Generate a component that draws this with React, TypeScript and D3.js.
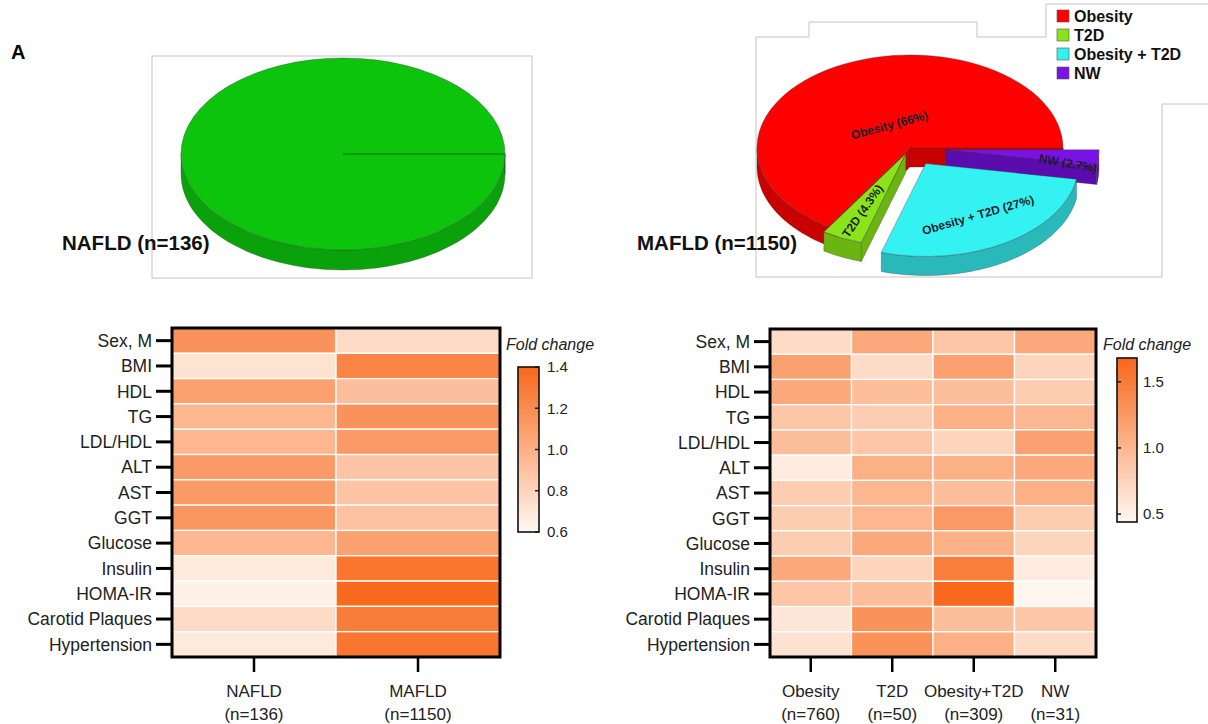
import React, { useEffect, useRef } from "react";
import * as d3 from "d3";

// ---------- DATA ----------
const rowLabels = [
  "Sex, M", "BMI", "HDL", "TG", "LDL/HDL", "ALT", "AST", "GGT",
  "Glucose", "Insulin", "HOMA-IR", "Carotid Plaques", "Hypertension",
];

const leftGroups = ["NAFLD", "MAFLD"];
const leftGroupN = ["(n=136)", "(n=1150)"];
const nafldFC = [1.16, 0.72, 1.08, 0.96, 0.96, 1.12, 1.12, 1.14, 0.96, 0.68, 0.64, 0.76, 0.68];
const mafldFC = [0.76, 1.24, 0.92, 1.16, 1.12, 0.88, 0.88, 0.9, 1.08, 1.32, 1.38, 1.28, 1.32];

const rightGroups = ["Obesity", "T2D", "Obesity+T2D", "NW"];
const rightGroupN = ["(n=760)", "(n=50)", "(n=309)", "(n=31)"];
const obesityFC = [0.69, 1.18, 1.12, 0.87, 0.94, 0.54, 0.81, 0.81, 0.81, 1.12, 0.87, 0.59, 0.63];
const t2dFC = [1.12, 0.69, 0.94, 0.81, 0.87, 1.06, 1.0, 1.0, 1.12, 0.75, 0.94, 1.31, 1.31];
const obesityT2dFC = [0.87, 1.18, 0.94, 1.06, 0.75, 1.06, 0.94, 1.25, 1.06, 1.49, 1.66, 0.94, 1.06];
const nwFC = [1.12, 0.75, 0.81, 1.0, 1.18, 1.12, 1.06, 0.81, 0.75, 0.54, 0.46, 0.87, 0.69];

const leftLegendDomain = [0.6, 1.4];
const leftLegendTicks = [0.6, 0.8, 1.0, 1.2, 1.4];
const rightLegendDomain = [0.44, 1.68];
const rightLegendTicks = [0.5, 1.0, 1.5];

// pie slices in clockwise order starting at 3 o'clock
const mafldSubtypes = ["NW", "Obesity + T2D", "T2D", "Obesity"];
const mafldShares = [2.7, 27, 4.3, 66];
const mafldLabels = ["NW (2.7%)", "Obesity + T2D (27%)", "T2D (4.3%)", "Obesity (66%)"];
const legendOrder = ["Obesity", "T2D", "Obesity + T2D", "NW"];
const nafldShares = [100];

// ---------- STYLE ----------
const FONT = "Arial, 'Liberation Sans', Helvetica, sans-serif";
const sliceStyle: Record<string, { top: string; side: string; explode: number; lf: number; rot: number }> = {
  NW: { top: "#7a12e6", side: "#5a0cae", explode: 36, lf: 0.8, rot: 10 },
  "Obesity + T2D": { top: "#35f2f2", side: "#29b9ba", explode: 30, lf: 0.65, rot: -16 },
  T2D: { top: "#8ae41a", side: "#6bb512", explode: 10, lf: 0.68, rot: -55 },
  Obesity: { top: "#ff0000", side: "#c80000", explode: 0, lf: 0.28, rot: -15 },
};

function draw3DPie(
  g: d3.Selection<SVGGElement, unknown, null, undefined>,
  names: string[],
  values: number[],
  cx: number, cy: number, rx: number, ry: number, h: number,
  styleOf: (n: string) => { top: string; side: string; explode: number },
  drawOrder: string[],
) {
  const pie = d3.pie<number>().sort(null).startAngle(Math.PI / 2).endAngle(Math.PI / 2 + 2 * Math.PI);
  const arcs = pie(values);
  const k = ry / rx;
  const arcGen = d3.arc<any>().innerRadius(0).outerRadius(rx);
  const info: any[] = [];
  arcs.forEach((a, i) => {
    const st = styleOf(names[i]);
    const mid = (a.startAngle + a.endAngle) / 2;
    const isFull = a.endAngle - a.startAngle >= 2 * Math.PI - 1e-6;
    const ox = isFull ? 0 : st.explode * Math.sin(mid);
    const oy = isFull ? 0 : -st.explode * Math.cos(mid) * k;
    info.push({ a, st, mid, tx: cx + ox, ty: cy + oy, name: names[i], isFull });
  });
  const line = d3.line();
  const order = drawOrder.map((n) => info.find((d) => d.name === n)).filter(Boolean);
  order.forEach((d) => {
    const { a, st, tx, ty, isFull } = d;
    const pt = (ang: number, dy = 0): [number, number] => [tx + rx * Math.sin(ang), ty - ry * Math.cos(ang) + dy];
    const sg = g.append("g");
    if (!isFull) {
      const face = (ang: number) => {
        const [px, py] = pt(ang);
        return line([[tx, ty], [px, py], [px, py + h], [tx, ty + h]]) + "Z";
      };
      if (Math.sin(a.startAngle) < 0)
        sg.append("path").attr("d", face(a.startAngle)).attr("fill", st.side).attr("stroke", "#333").attr("stroke-width", 0.5).attr("stroke-opacity", 0.6);
      if (Math.sin(a.endAngle) > 0)
        sg.append("path").attr("d", face(a.endAngle)).attr("fill", st.side).attr("stroke", "#333").attr("stroke-width", 0.5).attr("stroke-opacity", 0.6);
    }
    const fronts = [[Math.PI / 2, (3 * Math.PI) / 2], [(5 * Math.PI) / 2, (7 * Math.PI) / 2]];
    fronts.forEach(([f0, f1]) => {
      const a0 = Math.max(a.startAngle, f0);
      const a1 = Math.min(a.endAngle, f1);
      if (a1 > a0) {
        const n = 60;
        const top = d3.range(n + 1).map((i) => pt(a0 + ((a1 - a0) * i) / n));
        const bot = top.slice().reverse().map(([x, y]) => [x, y + h] as [number, number]);
        sg.append("path").attr("d", line([...top, ...bot]) + "Z").attr("fill", st.side)
          .attr("stroke", "#333").attr("stroke-width", 0.5).attr("stroke-opacity", 0.6);
      }
    });
    sg.append("path")
      .attr("d", arcGen({ startAngle: a.startAngle, endAngle: a.endAngle }) as string)
      .attr("transform", `translate(${tx},${ty}) scale(1,${k})`)
      .attr("fill", st.top)
      .attr("stroke", "#333")
      .attr("stroke-opacity", 0.6)
      .attr("stroke-width", 0.6)
      .attr("vector-effect", "non-scaling-stroke");
    if (isFull) {
      const [px, py] = pt(a.startAngle);
      sg.append("line").attr("x1", tx).attr("y1", ty).attr("x2", px).attr("y2", py)
        .attr("stroke", "#116611").attr("stroke-width", 1);
    }
  });
  return info;
}

function drawHeatmap(
  svg: d3.Selection<SVGSVGElement, unknown, null, undefined>,
  x0: number, x1: number, y0: number, y1: number,
  groups: string[], ns: string[], columns: number[][],
  color: (v: number) => string,
) {
  const g = svg.append("g");
  const xs = d3.scaleBand<string>().domain(groups).range([x0, x1]);
  const ys = d3.scaleBand<string>().domain(rowLabels).range([y0, y1]);
  groups.forEach((grp, i) => {
    rowLabels.forEach((r, j) => {
      g.append("rect")
        .attr("x", xs(grp)!).attr("y", ys(r)!)
        .attr("width", xs.bandwidth()).attr("height", ys.bandwidth())
        .attr("fill", color(columns[i][j]))
        .attr("stroke", "#ffffff").attr("stroke-width", 1.3);
    });
  });
  g.append("rect").attr("x", x0).attr("y", y0).attr("width", x1 - x0).attr("height", y1 - y0)
    .attr("fill", "none").attr("stroke", "#000").attr("stroke-width", 3);
  rowLabels.forEach((r) => {
    const yc = ys(r)! + ys.bandwidth() / 2;
    g.append("line").attr("x1", x0 - 16).attr("x2", x0).attr("y1", yc).attr("y2", yc)
      .attr("stroke", "#000").attr("stroke-width", 3);
    g.append("text").attr("x", x0 - 20).attr("y", yc).attr("dy", "0.36em")
      .attr("text-anchor", "end").attr("font-size", 17.5).attr("fill", "#222").text(r);
  });
  groups.forEach((grp, i) => {
    const xc = xs(grp)! + xs.bandwidth() / 2;
    g.append("line").attr("x1", xc).attr("x2", xc).attr("y1", y1).attr("y2", y1 + 15)
      .attr("stroke", "#000").attr("stroke-width", 2.5);
    g.append("text").attr("x", xc).attr("y", y1 + 40).attr("text-anchor", "middle")
      .attr("font-size", 17).attr("fill", "#222").text(grp);
    g.append("text").attr("x", xc).attr("y", y1 + 63).attr("text-anchor", "middle")
      .attr("font-size", 17).attr("fill", "#222").text(ns[i]);
  });
}

function drawLegend(
  svg: d3.Selection<SVGSVGElement, unknown, null, undefined>,
  id: string, titleX: number, bx: number, bw: number, by0: number, by1: number,
  domain: number[], ticks: number[], color: (v: number) => string, tickSide: "left" | "right", labelGap: number,
) {
  const g = svg.append("g");
  const ys = d3.scaleLinear().domain(domain).range([by1, by0]);
  const grad = svg.append("defs").append("linearGradient").attr("id", id)
    .attr("x1", 0).attr("x2", 0).attr("y1", 1).attr("y2", 0);
  d3.range(11).forEach((i) => {
    const v = domain[0] + ((domain[1] - domain[0]) * i) / 10;
    grad.append("stop").attr("offset", `${i * 10}%`).attr("stop-color", color(v));
  });
  g.append("text").attr("x", titleX).attr("y", 350).attr("font-size", 16).attr("font-style", "italic")
    .attr("fill", "#222").text("Fold change");
  g.append("rect").attr("x", bx).attr("y", by0).attr("width", bw).attr("height", by1 - by0)
    .attr("fill", `url(#${id})`).attr("stroke", "#111").attr("stroke-width", 1.6);
  ticks.forEach((t) => {
    const y = ys(t);
    const tx0 = tickSide === "right" ? bx + bw - 4 : bx;
    g.append("line").attr("x1", tx0).attr("x2", tx0 + 4).attr("y1", y).attr("y2", y)
      .attr("stroke", "#111").attr("stroke-width", 1.4);
    g.append("text").attr("x", bx + bw + labelGap).attr("y", y).attr("dy", "0.36em")
      .attr("font-size", 15).attr("fill", "#222").text(d3.format(".1f")(t));
  });
}

export default function App() {
  const ref = useRef<SVGSVGElement>(null);
  useEffect(() => {
    const svg = d3.select(ref.current!);
    svg.selectAll("*").remove();

    svg.append("text").attr("x", 11).attr("y", 59).attr("font-size", 20).attr("font-weight", "bold").text("A");

    // ---- left pie ----
    svg.append("rect").attr("x", 152).attr("y", 56).attr("width", 380).attr("height", 222)
      .attr("fill", "#fff").attr("stroke", "#c4c4c4").attr("stroke-width", 1);
    const gl = svg.append("g");
    draw3DPie(gl, ["NAFLD"], nafldShares, 343, 154, 162, 96, 20,
      () => ({ top: "#0cc40c", side: "#0aa20a", explode: 0 }), ["NAFLD"]);
    svg.append("text").attr("x", 62).attr("y", 250).attr("font-size", 20.5).attr("font-weight", "bold")
      .attr("fill", "#111").text("NAFLD (n=136)");

    // ---- right pie ----
    svg.append("path")
      .attr("d", "M756,277 V37 H809 V22 H977 V37 H1046 V4 H1210 M1210,104 H1162 V277 H756")
      .attr("fill", "none").attr("stroke", "#c4c4c4").attr("stroke-width", 1);
    const gr = svg.append("g");
    const info = draw3DPie(gr, mafldSubtypes, mafldShares, 910, 148, 153, 93, 19,
      (n) => sliceStyle[n], ["Obesity", "NW", "T2D", "Obesity + T2D"]);
    info.forEach((d, i) => {
      const st = sliceStyle[d.name];
      const lx = d.tx + st.lf * 153 * Math.sin(d.mid);
      const ly = d.ty - st.lf * 93 * Math.cos(d.mid) + (d.name === "NW" ? 7 : 0);
      gr.append("text").attr("transform", `translate(${lx},${ly}) rotate(${st.rot})`)
        .attr("text-anchor", "middle").attr("dy", "0.35em").attr("font-size", 12)
        .attr("font-weight", "bold").attr("fill", "#1c1c2c").text(mafldLabels[i]);
    });
    svg.append("text").attr("x", 637).attr("y", 250).attr("font-size", 20.5).attr("font-weight", "bold")
      .attr("fill", "#111").text("MAFLD (n=1150)");

    legendOrder.forEach((n, i) => {
      const yc = 16 + i * 19;
      svg.append("rect").attr("x", 1057).attr("y", yc - 6).attr("width", 12).attr("height", 12)
        .attr("fill", sliceStyle[n].top).attr("stroke", "#555").attr("stroke-width", 0.6);
      svg.append("text").attr("x", 1074).attr("y", yc).attr("dy", "0.36em").attr("font-size", 16)
        .attr("font-weight", "bold").attr("fill", "#111").text(n);
    });

    // ---- heatmaps ----
    const colorL = d3.scaleLinear<string>().domain(leftLegendDomain).range(["#fff8f2", "#f8671a"])
      .interpolate(d3.interpolateRgb).clamp(true);
    const colorR = d3.scaleLinear<string>().domain(rightLegendDomain).range(["#fff8f2", "#f8671a"])
      .interpolate(d3.interpolateRgb).clamp(true);

    drawHeatmap(svg, 172, 500, 328, 657, leftGroups, leftGroupN, [nafldFC, mafldFC], colorL);
    drawHeatmap(svg, 770, 1096, 329, 657, rightGroups, rightGroupN,
      [obesityFC, t2dFC, obesityT2dFC, nwFC], colorR);

    drawLegend(svg, "gradL", 506, 518, 21, 367, 532, leftLegendDomain, leftLegendTicks, colorL, "right", 8);
    drawLegend(svg, "gradR", 1103, 1117, 20, 358, 522, rightLegendDomain, rightLegendTicks, colorR, "left", 6);
  }, []);

  return (
    <svg
      ref={ref}
      width={1208}
      height={724}
      style={{ position: "absolute", left: 0, top: 0, background: "#fff", fontFamily: FONT }}
    />
  );
}
